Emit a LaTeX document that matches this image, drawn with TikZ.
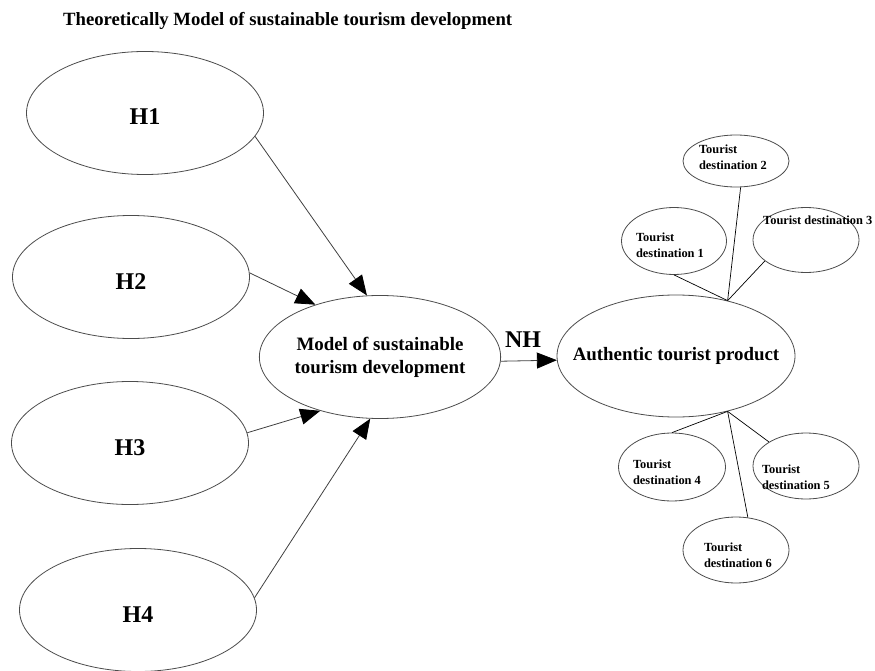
\documentclass[tikz,border=0pt]{standalone}
\usepackage{fontspec}
\setmainfont{Liberation Serif}
\usepackage{tikz}
\usetikzlibrary{shapes}
\usetikzlibrary{arrows.meta}

\tikzset{
  bigoval/.style={draw=black!70, line width=0.8pt, ellipse, inner sep=0pt,
    minimum width=237pt, minimum height=123pt},
  smalloval/.style={draw=black!70, line width=0.8pt, ellipse, inner sep=0pt,
    minimum width=106pt, minimum height=66pt},
  htext/.style={font=\fontsize{24}{28}\selectfont\bfseries},
  maintext/.style={align=center, font=\fontsize{18.9}{23}\selectfont\bfseries},
  tdtext/.style={align=left, inner sep=0pt, font=\fontsize{12.4}{16}\selectfont\bfseries},
  hyparrow/.style={draw=black!75, line width=0.8pt,
    -{Triangle[length=20pt,width=16pt,color=black]}},
  spoke/.style={draw=black, line width=0.7pt}
}

\begin{document}
\begin{tikzpicture}[x=1pt, y=-1pt]
      \path[use as bounding box] (0, 0) rectangle (875, 671);
      \node[anchor=base west, inner sep=0pt, font=\fontsize{18.7}{22}\selectfont\bfseries]
        (title) at (63, 26) {Theoretically Model of sustainable tourism development};

      \node[bigoval, htext, text height=24pt, text depth=0pt] (h1) at (145, 113) {H1};
      \node[bigoval, htext, text height=24pt, text depth=0pt] (h2) at (131, 277) {H2};
      \node[bigoval, htext, text height=24pt, text depth=0pt] (h3) at (130, 443) {H3};
      \node[bigoval, htext, text height=24pt, text depth=0pt] (h4) at (138, 610) {H4};

      \node[bigoval, maintext] (model) at (380, 357) {Model of sustainable\\tourism development};
      \node[bigoval, minimum width=238pt, minimum height=122pt,
        label={[maintext]center:Authentic tourist product}] (atp) at (676, 356) {};

      \draw[hyparrow] (h1.-12) -- (model.102);
      \draw[hyparrow] (h2.2) -- (model.141);
      \draw[hyparrow] (h3.5) -- (model.222);
      \draw[hyparrow] (h4.6) -- (model.261);
      \draw[hyparrow] (model.-2) -- (atp.182);
      \node[htext, inner sep=0pt] (nh) at (523, 340) {NH};

      \node[smalloval, minimum width=105pt, minimum height=67pt] (td1) at (674, 241) {};
      \node[smalloval, minimum height=52pt] (td2) at (736, 161) {};
      \node[smalloval, minimum height=65pt] (td3) at (806, 240) {};
      \node[smalloval, minimum width=107pt, minimum height=68pt] (td4) at (672, 467) {};
      \node[smalloval] (td5) at (806, 466) {};
      \node[smalloval] (td6) at (736, 550) {};

      \node[tdtext] (td1txt) at (670, 245) {Tourist\\destination 1};
      \node[tdtext] (td2txt) at (733, 157) {Tourist\\destination 2};
      \node[tdtext, anchor=base west] (td3txt) at (763, 224) {Tourist destination 3};
      \node[tdtext] (td4txt) at (667, 472) {Tourist\\destination 4};
      \node[tdtext] (td5txt) at (796, 477) {Tourist\\destination 5};
      \node[tdtext] (td6txt) at (738, 555) {Tourist\\destination 6};

      \coordinate (topjoin) at (atp.47);
      \coordinate (botjoin) at (atp.-47);
      \draw[spoke] (td1.south) -- (topjoin);
      \draw[spoke] (td2.-80) -- (topjoin);
      \draw[spoke] (td3.207) -- (topjoin);
      \draw[spoke] (td4.north) -- (botjoin);
      \draw[spoke] (td5.147) -- (botjoin);
      \draw[spoke] (td6.70) -- (botjoin);
    \end{tikzpicture}
\end{document}
